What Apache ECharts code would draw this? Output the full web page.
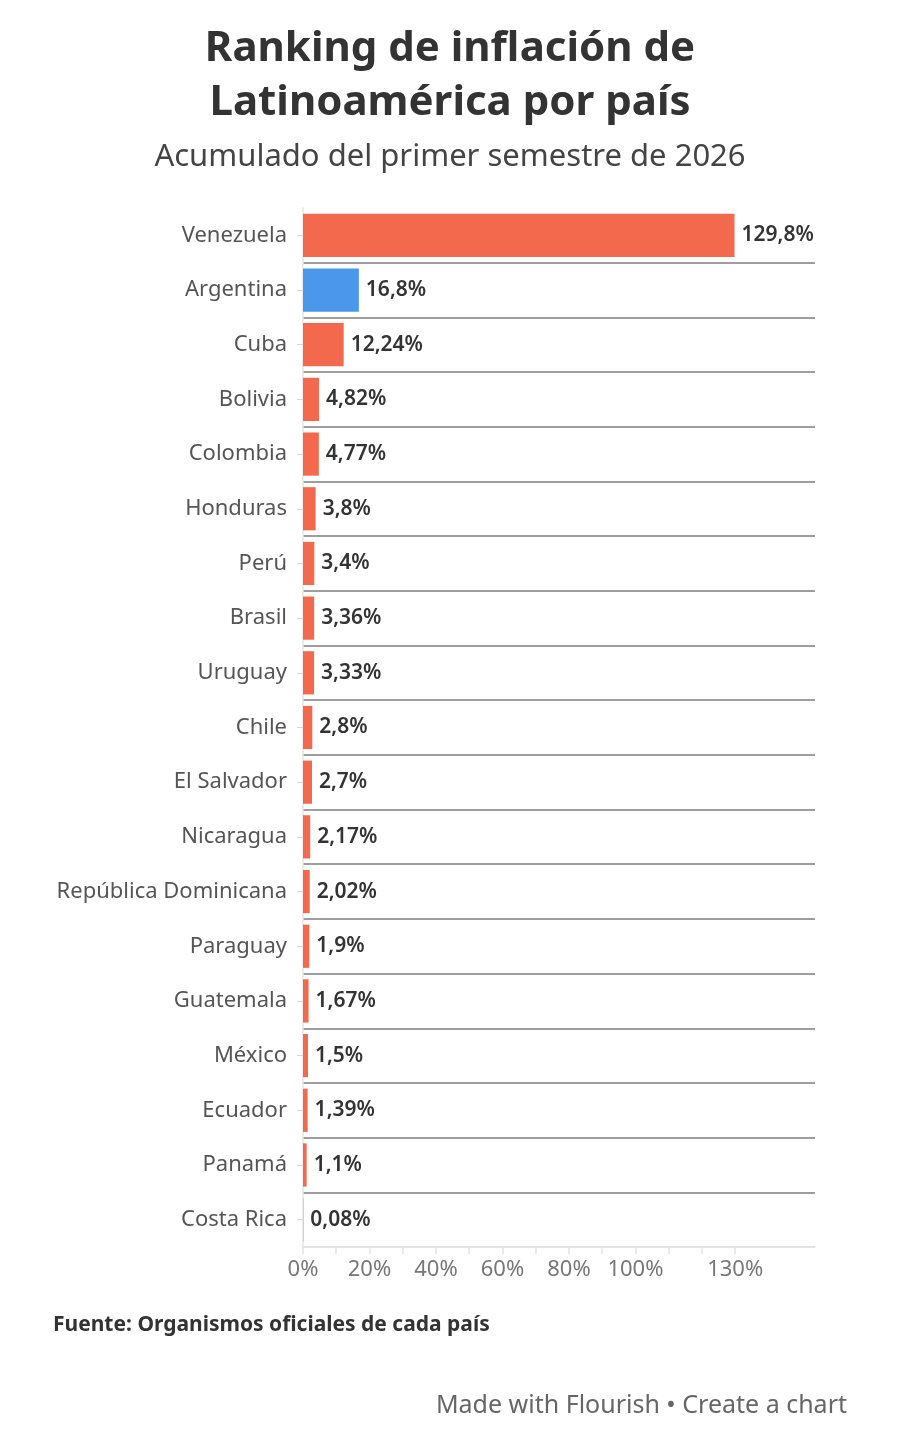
<!DOCTYPE html>
<html>
<head>
<meta charset="utf-8">
<script src="https://cdn.jsdelivr.net/npm/echarts@6/dist/echarts.min.js"></script>
<style>
  html, body { margin: 0; padding: 0; background: #ffffff; }
  #chart { width: 900px; height: 1450px; }
</style>
</head>
<body>
<div id="chart"></div>
<script>
// ---- Data ----
var categories = ['Venezuela', 'Argentina', 'Cuba', 'Bolivia', 'Colombia', 'Honduras', 'Perú', 'Brasil', 'Uruguay', 'Chile', 'El Salvador', 'Nicaragua', 'República Dominicana', 'Paraguay', 'Guatemala', 'México', 'Ecuador', 'Panamá', 'Costa Rica'];
var values = [129.8, 16.8, 12.24, 4.82, 4.77, 3.8, 3.4, 3.36, 3.33, 2.8, 2.7, 2.17, 2.02, 1.9, 1.67, 1.5, 1.39, 1.1, 0.08];
var highlighted = ['Argentina'];
var xTickValues = [0, 10, 20, 30, 40, 50, 60, 70, 80, 90, 100, 110, 120, 130];
var xLabelValues = [0, 20, 40, 60, 80, 100, 130];

// ---- Style ----
var RED = '#f2694e';
var BLUE = '#4a97ec';
var FONT = '"Noto Sans", "Open Sans", sans-serif';

function fmt(v) { return String(v).replace('.', ',') + '%'; }

var splitColors = categories.map(function (c, i) { return i === 0 ? 'rgba(0,0,0,0)' : '#9e9e9e'; });
splitColors.push('#e4e4e4');

var chart = echarts.init(document.getElementById('chart'), null, { renderer: 'canvas' });
chart.setOption({
  backgroundColor: '#ffffff',
  animation: false,
  textStyle: { fontFamily: FONT },
  title: [
    {
      text: 'Ranking de inflación de\nLatinoamérica por país',
      left: 'center', top: 17,
      textStyle: { fontFamily: FONT, fontSize: 42, fontWeight: 'bold', color: '#333333', lineHeight: 54, align: 'center' }
    },
    {
      text: 'Acumulado del primer semestre de 2026',
      left: 'center', top: 134,
      textStyle: { fontFamily: FONT, fontSize: 31, fontWeight: 'normal', color: '#444444', lineHeight: 36 }
    },
    {
      text: 'Fuente: Organismos oficiales de cada país',
      left: 48, top: 1307,
      textStyle: { fontFamily: FONT, fontSize: 21, fontWeight: 'bold', color: '#333333', lineHeight: 26 }
    },
    {
      text: 'Made with Flourish • Create a chart',
      right: 48, top: 1386,
      textStyle: { fontFamily: FONT, fontSize: 25, fontWeight: 'normal', color: '#666666', lineHeight: 30 }
    }
  ],
  grid: { left: 303, right: 85, top: 208, bottom: 203, containLabel: false },
  xAxis: {
    type: 'value', min: 0, max: 154, interval: 10,
    axisLine: { show: true, lineStyle: { color: '#e4e4e4', width: 1.5 } },
    axisTick: { show: true, customValues: xTickValues, length: 7, lineStyle: { color: '#e4e4e4', width: 1.5 } },
    axisLabel: { customValues: xLabelValues, formatter: function (v) { return v + '%'; }, fontFamily: FONT, fontSize: 22, color: '#777777', margin: 12 },
    splitLine: { show: false }
  },
  yAxis: {
    type: 'category', inverse: true, data: categories,
    axisLine: { show: true, lineStyle: { color: '#e4e4e4', width: 1.5 } },
    axisTick: { show: true, alignWithLabel: true, length: 6, lineStyle: { color: '#d8d8d8' } },
    axisLabel: { fontFamily: FONT, fontSize: 22, color: '#555555', margin: 16 },
    splitLine: { show: true, lineStyle: { color: splitColors, width: 2 } }
  },
  series: [{
    type: 'bar',
    barCategoryGap: '21%',
    data: values.map(function (v, i) {
      return { value: v, itemStyle: { color: highlighted.indexOf(categories[i]) >= 0 ? BLUE : RED } };
    }),
    label: {
      show: true, position: 'right', distance: 7,
      formatter: function (p) { return fmt(p.value); },
      fontFamily: FONT, fontSize: 21, fontWeight: 600, color: '#333333'
    }
  }]
});
</script>
</body>
</html>
